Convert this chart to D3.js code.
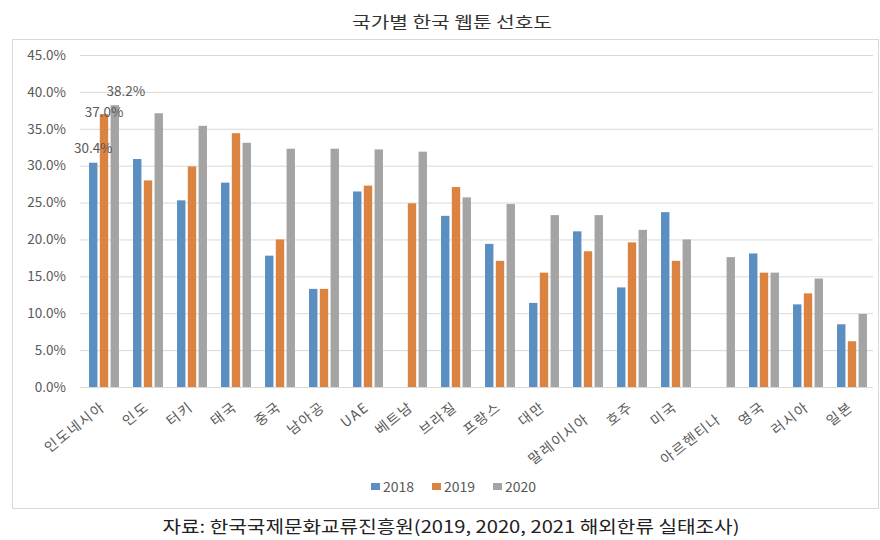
<!DOCTYPE html>
<html><head><meta charset="utf-8">
<script src="https://cdn.jsdelivr.net/npm/d3@7"></script>
<style>body{margin:0;background:#fff}svg{display:block}text{font-family:"Noto Sans CJK KR","Noto Sans",sans-serif}</style>
</head><body><svg id="c" width="880" height="540"></svg>
<script>
const categories = ["인도네시아","인도","터키","태국","중국","남아공","UAE","베트남","브라질","프랑스","대만","말레이시아","호주","미국","아르헨티나","영국","러시아","일본"];
const years = ["2018","2019","2020"];
const v2018 = [30.4,30.9,25.3,27.7,17.8,13.3,26.5,null,23.2,19.4,11.4,21.1,13.5,23.7,null,18.1,11.2,8.5];
const v2019 = [37.0,28.0,29.9,34.4,20.0,13.3,27.3,24.9,27.1,17.1,15.5,18.4,19.6,17.1,null,15.5,12.7,6.2];
const v2020 = [38.2,37.1,35.4,33.1,32.3,32.3,32.2,31.9,25.7,24.8,23.3,23.3,21.3,20.0,17.6,15.5,14.7,9.9];
const yTicks = [0,5,10,15,20,25,30,35,40,45];
const colors = ["#5b8ec1","#db8441","#a4a4a4"];
const labelled = [{s:0,i:0,dx:0,dy:-15},{s:1,i:0,dx:0,dy:-2},{s:2,i:0,dx:11,dy:-14}];
const staggered = ["말레이시아","아르헨티나"];

const series = [v2018,v2019,v2020];
const svg = d3.select("#c");
const x = d3.scaleBand().domain(categories).range([82,874]).paddingInner(0.32).paddingOuter(0.16);
const xs = d3.scaleBand().domain(years).range([0,x.bandwidth()]).paddingInner(0.22);
const y = d3.scaleLinear().domain([0,45]).range([387,55]);
const numFont = "\"Open Sans\",\"Noto Sans\",sans-serif";

svg.append("rect").attr("x",12.5).attr("y",39.5).attr("width",866).attr("height",469).attr("fill","none").attr("stroke","#d9d9d9");

svg.append("text").attr("x",452).attr("y",28).attr("text-anchor","middle").attr("font-size",16).attr("fill","#333")
  .attr("textLength",200).attr("lengthAdjust","spacingAndGlyphs").text("국가별 한국 웹툰 선호도");

// grid
svg.append("g").selectAll("line").data(yTicks).join("line")
  .attr("x1",80).attr("x2",873).attr("y1",d=>y(d)+0.5).attr("y2",d=>y(d)+0.5)
  .attr("stroke","#d9d9d9").attr("stroke-width",1);

const ya = svg.append("g").attr("transform","translate(80,0)")
  .call(d3.axisLeft(y).tickValues(yTicks).tickSize(0).tickPadding(14).tickFormat(d=>d.toFixed(1)+"%"));
ya.select(".domain").remove();
ya.selectAll("text").attr("font-size",13.5).attr("fill","#595959").attr("font-family",numFont);

// bars
series.forEach((vals,s)=>{
  svg.append("g").selectAll("rect").data(categories.map((c,i)=>({c,v:vals[i]})).filter(d=>d.v!=null)).join("rect")
    .attr("x",d=>x(d.c)+xs(years[s])).attr("width",xs.bandwidth())
    .attr("y",d=>y(d.v)).attr("height",d=>y(0)-y(d.v)).attr("fill",colors[s]);
});

// data labels
svg.append("g").selectAll("text").data(labelled).join("text")
  .attr("x",d=>x(categories[d.i])+xs(years[d.s])+xs.bandwidth()/2+d.dx)
  .attr("y",d=>y(series[d.s][d.i])+d.dy+5)
  .attr("text-anchor","middle").attr("font-size",13.5).attr("fill","#595959")
  .attr("font-family",numFont)
  .text(d=>series[d.s][d.i].toFixed(1)+"%");

// x axis labels
const xa = svg.append("g").attr("transform","translate(0,387)")
  .call(d3.axisBottom(x).tickSize(0).tickPadding(0));
xa.select(".domain").remove();
xa.selectAll("text").attr("font-size",14).attr("fill","#595959")
  .attr("text-anchor","end").attr("dy",0).attr("letter-spacing",1.5)
  .attr("transform",d=>staggered.includes(d)?"translate(2,34) rotate(-38)":"translate(2,22) rotate(-38)");

// legend
const lg = svg.append("g").attr("transform","translate(371,487)");
const lx = [0,61,122];
years.forEach((yr,i)=>{
  lg.append("rect").attr("x",lx[i]).attr("y",-4).attr("width",9).attr("height",7).attr("fill",colors[i]);
  lg.append("text").attr("x",lx[i]+12).attr("y",5).attr("font-size",14).attr("fill","#595959")
    .attr("font-family",numFont).text(yr);
});

svg.append("text").attr("x",451).attr("y",533).attr("text-anchor","middle").attr("font-size",17).attr("fill","#222")
  .attr("textLength",577).attr("lengthAdjust","spacingAndGlyphs")
  .text("자료: 한국국제문화교류진흥원(2019, 2020, 2021 해외한류 실태조사)");
</script></body></html>
